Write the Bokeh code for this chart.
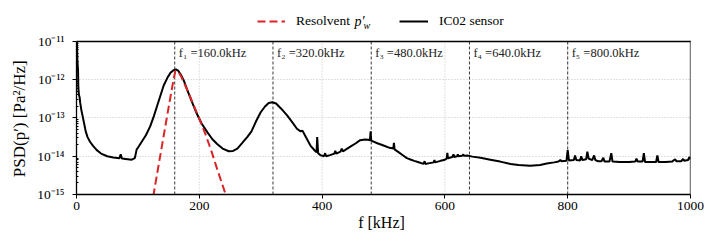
from bokeh.plotting import figure
from bokeh.models import (Range1d, CustomJSTickFormatter, FixedTicker, Legend, LegendItem, Label)
from bokeh.core.properties import value
from bokeh.embed import file_html
from bokeh.resources import INLINE

# ---------------- data ----------------
# IC02 sensor PSD: frequency [kHz] and log10(PSD [Pa^2/Hz])
sensor_f = [
    0.5, 1, 1.5, 2.5, 3, 4, 5, 6, 8, 10,
    12.5, 15, 18, 22, 27, 33, 40, 50, 60, 70,
    72, 74, 80, 90, 95, 98, 100, 107, 113, 120,
    126, 131, 137, 142, 148, 153, 158, 162, 166, 170,
    175, 180, 188, 196, 204, 213, 221, 229, 238, 248,
    255, 262, 270, 278, 285, 292, 300, 307, 313, 319,
    325, 333, 343, 351, 359, 365, 368, 372, 381, 388,
    391, 392, 393.5, 397, 403, 405, 406.5, 413, 420, 421.5,
    423, 430, 432, 434, 446, 455, 462, 470, 475, 478,
    479, 480, 490, 500, 510, 516, 517, 518, 525, 532,
    538, 545, 550, 556, 565, 567, 568, 575, 582, 583,
    584, 593, 600, 603, 604, 605, 612, 614, 615, 620,
    621, 622, 628, 630, 631, 636, 645, 658, 674, 690,
    707, 720, 739, 755, 766, 778, 785, 788, 790, 798,
    800, 802, 810, 812, 814, 820, 822, 824, 830, 832,
    834, 840, 843, 845, 850, 855, 858, 860, 868, 871,
    873, 885, 900, 910, 912, 914, 922, 924, 926, 935,
    944, 946, 948, 960, 970, 975, 977, 985, 988, 990,
    996, 998, 1000,
]
sensor_log_psd = [
    -11.0, -11.15, -11.5, -11.75, -12.2, -12.4, -12.45, -12.6, -12.8, -12.95,
    -13.15, -13.35, -13.5, -13.62, -13.73, -13.84, -13.93, -14.0, -14.03, -14.05,
    -13.95, -14.06, -14.07, -14.09, -14.05, -13.82, -13.78, -13.6, -13.45, -13.22,
    -12.95, -12.7, -12.4, -12.15, -11.95, -11.82, -11.75, -11.73, -11.77, -11.87,
    -12.03, -12.25, -12.58, -12.89, -13.15, -13.37, -13.55, -13.68, -13.8, -13.87,
    -13.86, -13.8, -13.65, -13.5, -13.35, -13.1, -12.85, -12.7, -12.61, -12.59,
    -12.62, -12.75, -12.93, -13.1, -13.28, -13.35, -13.33, -13.45, -13.72, -13.85,
    -13.9, -13.5, -13.92, -13.97, -14.0, -13.92, -14.0, -13.97, -13.93, -13.86,
    -13.93, -13.88, -13.8, -13.87, -13.75, -13.66, -13.58, -13.56, -13.57, -13.58,
    -13.35, -13.59, -13.66, -13.72, -13.78, -13.8, -13.65, -13.82, -13.9, -13.98,
    -14.05, -14.09, -14.12, -14.15, -14.2, -14.13, -14.2, -14.18, -14.16, -14.1,
    -14.16, -14.12, -14.09, -14.06, -13.91, -14.05, -14.02, -13.95, -14.02, -14.0,
    -13.95, -14.0, -13.99, -13.95, -13.99, -13.98, -14.01, -14.04, -14.09, -14.14,
    -14.2, -14.23, -14.25, -14.23, -14.19, -14.16, -14.14, -14.1, -14.13, -14.12,
    -13.84, -14.11, -14.1, -13.98, -14.1, -14.11, -14.0, -14.1, -14.08, -13.88,
    -14.06, -14.1, -13.98, -14.1, -14.13, -14.13, -14.04, -14.14, -14.14, -13.92,
    -14.14, -14.15, -14.15, -14.14, -14.06, -14.14, -14.14, -13.92, -14.15, -14.15,
    -14.15, -13.98, -14.15, -14.15, -14.14, -14.08, -14.13, -14.13, -14.07, -14.12,
    -14.1, -14.02, -14.08,
]

# Resolvent p'_w
resolvent_f = [125, 133, 140, 147, 153, 158, 161, 165, 170, 180, 190, 200, 210, 220, 230, 244]
resolvent_log_psd = [-15.05, -14.3, -13.65, -13.0, -12.45, -12.0, -11.77, -11.78, -11.9,
                     -12.25, -12.63, -13.02, -13.42, -13.88, -14.38, -15.05]

# harmonic frequencies [kHz]
harmonic_f = [160.0, 320.0, 480.0, 640.0, 800.0]
harmonic_sub = ["₁", "₂", "₃", "₄", "₅"]

# axes
x_ticks = [0, 200, 400, 600, 800, 1000]
y_decades = [1e-15, 1e-14, 1e-13, 1e-12, 1e-11]
y_minor = [k * d for d in y_decades[:-1] for k in range(2, 10)]
x_min, x_max = 0, 1000
y_min, y_max = 1e-15, 1e-11

assert len(sensor_f) == len(sensor_log_psd)
sensor_psd = [10 ** v for v in sensor_log_psd]
resolvent_psd = [10 ** v for v in resolvent_log_psd]
harmonic_labels = [f"f{s} ={f:.1f}kHz" for s, f in zip(harmonic_sub, harmonic_f)]

# ---------------- styling ----------------
FONT = "Liberation Serif"
RED = "#dc2326"
GRID = "#b4b4b4"

# the frame reaches up to the canvas top so that the legend row can live inside it;
# the visible data box (1e-15 .. 1e-11) is drawn with its own spines
Y_TOP = 1.18e-10

p = figure(width=714, height=248, x_range=Range1d(x_min, x_max), y_range=Range1d(y_min, Y_TOP),
           y_axis_type="log", output_backend="svg", toolbar_location=None,
           min_border_left=76, min_border_right=24, min_border_top=0, min_border_bottom=54)
p.outline_line_color = None
p.background_fill_color = None

p.xaxis.ticker = FixedTicker(ticks=x_ticks)
p.yaxis.ticker = FixedTicker(ticks=y_decades, minor_ticks=y_minor)
p.yaxis.bounds = (y_min, y_max)
p.yaxis.formatter = CustomJSTickFormatter(code="""
const e = Math.round(Math.log10(tick));
const sup = {'-':'⁻','0':'⁰','1':'¹','2':'²','3':'³','4':'⁴','5':'⁵','6':'⁶','7':'⁷','8':'⁸','9':'⁹'};
return '10' + String(e).split('').map(c => sup[c]).join('');
""")

p.xgrid.visible = False
p.ygrid.grid_line_color = GRID
p.ygrid.grid_line_dash = "1 2"
p.ygrid.grid_line_width = 0.8

p.axis.axis_line_color = "black"
p.axis.axis_line_width = 1.3
p.axis.major_tick_line_color = "black"
p.axis.major_tick_out = 4
p.axis.major_tick_in = 0
p.xaxis.major_label_standoff = 3
p.yaxis.major_label_standoff = 8
p.axis.major_label_text_font = FONT
p.axis.major_label_text_font_size = "13.5px"
p.axis.major_label_text_color = "black"
p.axis.axis_label_text_font = FONT
p.axis.axis_label_text_font_style = "normal"
p.axis.axis_label_text_color = "black"
p.xaxis.axis_label_text_font_size = "16px"
p.yaxis.axis_label_text_font_size = "17px"
p.xaxis.axis_label_standoff = 1
p.yaxis.axis_label_standoff = 5
p.xaxis.minor_tick_line_color = None
p.yaxis.minor_tick_in = 2
p.yaxis.minor_tick_out = 0
p.yaxis.minor_tick_line_color = "black"
p.xaxis.axis_label = "f  [kHz]"
# trailing em-spaces centre the visible label on the data box rather than the full frame
p.yaxis.axis_label = "PSD(p′) [Pa²/Hz]\u2003\u2003\u2002"

# vertical grid (dotted) limited to the data box
grid_x = x_ticks[1:-1]
p.segment(x0=grid_x, y0=[y_min] * len(grid_x), x1=grid_x, y1=[y_max] * len(grid_x),
          line_color=GRID, line_dash="1 2", line_width=0.8)

# harmonic markers
p.segment(x0=harmonic_f, y0=[y_min] * len(harmonic_f), x1=harmonic_f, y1=[y_max] * len(harmonic_f),
          line_color="#222222", line_width=0.9, line_dash="3 2")
p.text(x=harmonic_f, y=[y_max] * len(harmonic_f), text=harmonic_labels,
       x_offset=4, y_offset=12, text_baseline="middle", text_font=value(FONT),
       text_font_size="12.5px", text_color="#222222")

sensor_r = p.line(sensor_f, sensor_psd, line_color="black", line_width=2)
res_r = p.line(resolvent_f, resolvent_psd, line_color=RED, line_width=2, line_dash="8 4")

# top and right spines of the data box
p.segment(x0=[x_min, x_max], y0=[y_max, y_min], x1=[x_max, x_max], y1=[y_max, y_max],
          line_color="black", line_width=1.3, line_cap="square")

# ---------------- legend row above the data box ----------------
def make_legend(label, renderer, x, glyph_w):
    lg = Legend(items=[LegendItem(label=label, renderers=[renderer])],
                location=(x, 163), margin=0, padding=0, glyph_width=glyph_w,
                glyph_height=20, label_height=20, label_standoff=11,
                border_line_color=None, background_fill_alpha=0,
                label_text_font=FONT, label_text_font_size="13.5px",
                label_text_color="black")
    p.add_layout(lg, "center")

make_legend("Resolvent", res_r, 181, 28)
make_legend("IC02 sensor", sensor_r, 323, 29)

p.add_layout(Label(x=278, y=173, x_units="screen", y_units="screen", text="p′",
                   text_font=FONT, text_font_size="14px", text_font_style="italic",
                   text_baseline="middle", text_color="black"))
p.add_layout(Label(x=287, y=169, x_units="screen", y_units="screen", text="w",
                   text_font=FONT, text_font_size="10px", text_font_style="italic",
                   text_baseline="middle", text_color="black"))

open("out.html", "w").write(file_html(p, INLINE))
